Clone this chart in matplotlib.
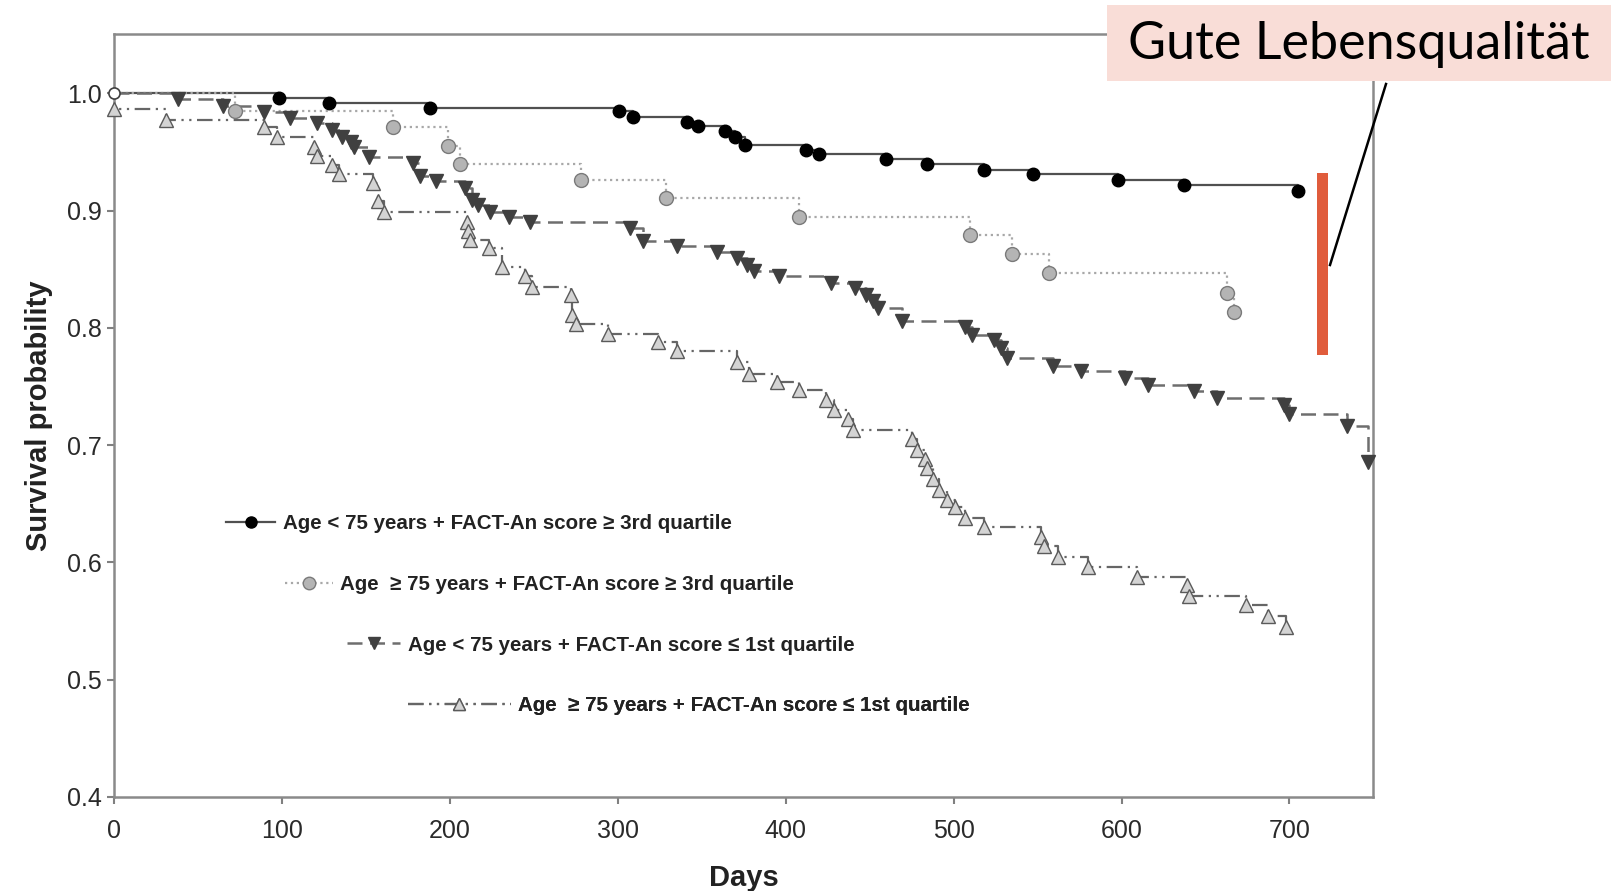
import numpy as np
import matplotlib
matplotlib.use("Agg")
import matplotlib.pyplot as plt
from matplotlib.lines import Line2D
from matplotlib.patches import Rectangle

# Kaplan-Meier event times (days) and survival after each event
s1_days = [98, 128, 188, 301, 309, 341, 348, 364, 370, 376, 412, 420, 460, 484, 518, 547, 598, 637, 705]
s1_surv = [0.996, 0.992, 0.988, 0.985, 0.980, 0.976, 0.972, 0.968, 0.963, 0.956, 0.952, 0.948,
           0.944, 0.940, 0.935, 0.931, 0.926, 0.922, 0.917]

s2_days = [72, 166, 199, 206, 278, 329, 408, 510, 535, 557, 663, 667]
s2_surv = [0.985, 0.971, 0.955, 0.940, 0.926, 0.911, 0.895, 0.879, 0.863, 0.847, 0.830, 0.814]

s3_days = [38, 65, 89, 105, 121, 130, 136, 141, 143, 152, 178, 182, 192, 209, 213, 217, 224, 235,
           248, 307, 315, 335, 359, 371, 377, 381, 396, 427, 441, 448, 452, 455, 469, 507, 511,
           524, 528, 532, 559, 576, 602, 616, 643, 657, 697, 700, 734, 747]
s3_surv = [0.995, 0.989, 0.984, 0.979, 0.975, 0.969, 0.963, 0.959, 0.954, 0.946, 0.941, 0.930,
           0.925, 0.919, 0.909, 0.905, 0.899, 0.895, 0.890, 0.885, 0.874, 0.870, 0.865, 0.860,
           0.854, 0.849, 0.844, 0.838, 0.834, 0.828, 0.823, 0.817, 0.806, 0.801, 0.794, 0.790,
           0.783, 0.774, 0.768, 0.763, 0.757, 0.751, 0.746, 0.740, 0.734, 0.727, 0.716, 0.686]

s4_days = [0, 31, 89, 97, 119, 121, 130, 134, 154, 157, 161, 210, 211, 212, 223, 231, 245, 249,
           272, 273, 275, 294, 324, 335, 371, 378, 395, 408, 424, 429, 437, 440, 475, 478, 483,
           484, 488, 491, 496, 501, 507, 518, 552, 554, 562, 580, 609, 639, 640, 674, 687, 698]
s4_surv = [0.987, 0.977, 0.971, 0.963, 0.954, 0.947, 0.939, 0.931, 0.924, 0.908, 0.899, 0.890,
           0.883, 0.875, 0.868, 0.852, 0.844, 0.835, 0.828, 0.811, 0.803, 0.795, 0.788, 0.780,
           0.771, 0.761, 0.754, 0.747, 0.739, 0.730, 0.722, 0.713, 0.705, 0.696, 0.688, 0.681,
           0.671, 0.662, 0.653, 0.647, 0.638, 0.630, 0.622, 0.614, 0.605, 0.596, 0.588, 0.581,
           0.571, 0.564, 0.554, 0.545]

labels = ["Age < 75 years + FACT-An score \u2265 3rd quartile",
          "Age  \u2265 75 years + FACT-An score \u2265 3rd quartile",
          "Age < 75 years + FACT-An score \u2264 1st quartile",
          "Age  \u2265 75 years + FACT-An score \u2264 1st quartile"]

x_ticks = [0, 100, 200, 300, 400, 500, 600, 700]
y_ticks = [0.4, 0.5, 0.6, 0.7, 0.8, 0.9, 1.0]

annot_text = "Gute Lebensqualit\u00e4t"

plt.rcParams["font.family"] = ["Liberation Sans", "DejaVu Sans"]

fig = plt.figure(figsize=(16.11, 8.91), dpi=100)
ax = fig.add_axes([0.0708, 0.1055, 0.7813, 0.8563])

styles = [
    dict(color="#505050", ls="-", lw=1.6, marker="o", ms=9, mfc="black", mec="black"),
    dict(color="#a8a8a8", ls=":", lw=1.6, marker="o", ms=10, mfc="#b4b4b4", mec="#7a7a7a"),
    dict(color="#6e6e6e", ls=(0, (6, 3)), lw=1.8, marker="v", ms=10, mfc="#404040", mec="#404040"),
    dict(color="#666666", ls=(0, (7, 2.5, 1, 2.5, 1, 2.5)), lw=1.6, marker="^", ms=10,
         mfc="#d4d4d4", mec="#5a5a5a"),
]
series = [(s1_days, s1_surv), (s2_days, s2_surv), (s3_days, s3_surv), (s4_days, s4_surv)]

handles = []
for (d, s), st in zip(series, styles):
    t = np.concatenate([[0], d])
    v = np.concatenate([[1.0], s])
    ax.step(t, v, where="post", color=st["color"], ls=st["ls"], lw=st["lw"], zorder=2)
    ax.plot(d, s, ls="none", marker=st["marker"], ms=st["ms"], mfc=st["mfc"], mec=st["mec"],
            mew=1.0, zorder=3, clip_on=False)
    handles.append(Line2D([], [], color=st["color"], ls=st["ls"], lw=st["lw"], marker=st["marker"],
                          ms=st["ms"] - 1, mfc=st["mfc"], mec=st["mec"]))

# open marker at the common start
ax.plot([0], [1.0], ls="none", marker="o", ms=8, mfc="white", mec="#404040", mew=1.2,
        zorder=4, clip_on=False)

ax.set_xlim(0, 749.6)
ax.set_ylim(0.4, 1.0507)
ax.set_xticks(x_ticks)
ax.set_yticks(y_ticks)
ax.set_yticklabels(["%.1f" % y for y in y_ticks])
ax.tick_params(direction="out", length=5, width=1.5, color="#808080", labelsize=18,
               labelcolor="#2a2a2a")
ax.tick_params(axis="x", pad=11)
ax.tick_params(axis="y", pad=4)
for sp in ax.spines.values():
    sp.set_color("#8a8a8a")
    sp.set_linewidth(1.8)

ax.set_xlabel("Days", fontsize=21, fontweight="bold", labelpad=15, color="#222222")
ax.set_ylabel("Survival probability", fontsize=21, fontweight="bold", labelpad=10,
              color="#222222")

# staggered legend rows
leg_pos = [(0.089, 0.358, 2.4), (0.136, 0.278, 2.3), (0.185, 0.199, 2.6), (0.2336, 0.1195, 5.0)]
for h, lab, (lx, ly, hl) in zip(handles, labels, leg_pos):
    leg = ax.legend([h], [lab], loc="center left", bbox_to_anchor=(lx, ly), frameon=False,
                    borderpad=0, borderaxespad=0, handlelength=hl, handletextpad=0.35,
                    numpoints=1, prop=dict(weight="bold", size=14.8))
    for txt in leg.get_texts():
        txt.set_color("#222222")
    ax.add_artist(leg)

# overlay: label box, connector and red bar
fig.patches.append(Rectangle((1107 / 1611, 1 - 81 / 891), 1 - 1107 / 1611, 76 / 891,
                             transform=fig.transFigure, facecolor="#f9ddd7", edgecolor="none",
                             zorder=5))
fig.text(1359 / 1611, 1 - 45 / 891, annot_text, ha="center", va="center", fontsize=37.5,
         family=["Lato", "DejaVu Sans"], color="black", zorder=6)
fig.lines.append(Line2D([1330 / 1611, 1386 / 1611], [1 - 265 / 891, 1 - 84 / 891],
                        transform=fig.transFigure, color="black", lw=1.8, zorder=6))
fig.patches.append(Rectangle((1317 / 1611, 1 - 355 / 891), 11 / 1611, 182 / 891,
                             transform=fig.transFigure, facecolor="#e05c3c", edgecolor="none",
                             zorder=6))

fig.savefig("out.png", dpi=100)
